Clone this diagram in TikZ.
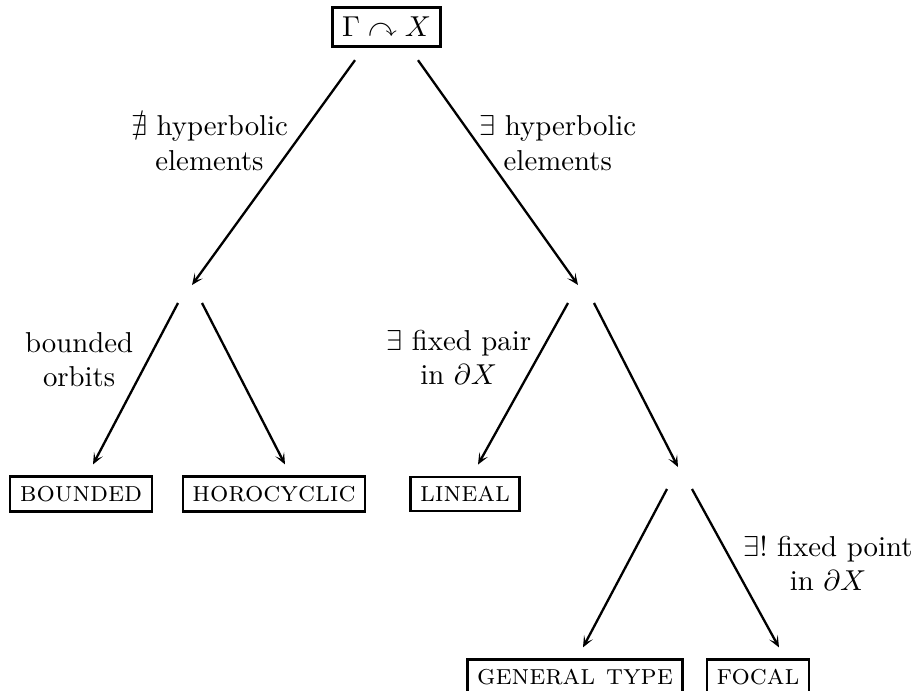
\documentclass[tikz,border=0pt]{standalone}
\usepackage{amssymb}
\usetikzlibrary{arrows.meta, positioning}
\tikzset{
  leaf/.style={draw, thick, font=\scshape},
  cond/.style={align=center},
}
\begin{document}
\begin{tikzpicture}[x=0.3472pt, y=-0.3472pt, >={Stealth[length=4pt, width=3.4pt, inset=2pt]}, thick]
\useasboundingbox (0,0) rectangle (916,691);
\node[draw, very thick] (root) at (386.5,27) {$\Gamma \curvearrowright X$};
\coordinate (nohyp) at (190,294);
\coordinate (hyp) at (581,294);
\coordinate (nofix) at (680,479);
\node[leaf] (bounded) at (81,494) {bounded};
\node[leaf] (horo) at (274,494) {horocyclic};
\node[leaf] (lineal) at (465,494) {lineal};
\node[leaf] (general) at (575,677) {general type};
\node[leaf] (focal) at (758,677) {focal};
\draw [->] ([shift={(-31.5,12)}]root.south) -- node[pos=0.37, left, xshift=1.4pt, cond]{$\nexists$ hyperbolic\\elements} ([shift={(2,-9)}]nohyp);
\draw [->] ([shift={(31.5,12)}]root.south) -- node[pos=0.37, right, xshift=-3pt, cond]{$\exists$ hyperbolic\\elements} ([shift={(-3,-9)}]hyp);
\draw [->] ([shift={(-12,9)}]nohyp) -- node[pos=0.35, left, xshift=-1.5pt, cond]{bounded\\orbits} ([shift={(12,-11)}]bounded.north);
\draw [->] ([shift={(12,9)}]nohyp) -- ([shift={(11,-11)}]horo.north);
\draw [->] ([shift={(-13,9)}]hyp) -- node[pos=0.335, left, xshift=1.4pt, cond]{$\exists$ fixed pair\\in $\partial X$} ([shift={(13,-11)}]lineal.north);
\draw [->] ([shift={(13,9)}]hyp) -- ([shift={(-2,-12)}]nofix);
\draw [->] ([shift={(-13,10)}]nofix) -- ([shift={(8,-11)}]general.north);
\draw [->] ([shift={(12,10)}]nofix) -- node[pos=0.47, right, cond]{$\exists!$ fixed point\\in $\partial X$} ([shift={(21,-11)}]focal.north);
\end{tikzpicture}
\end{document}
